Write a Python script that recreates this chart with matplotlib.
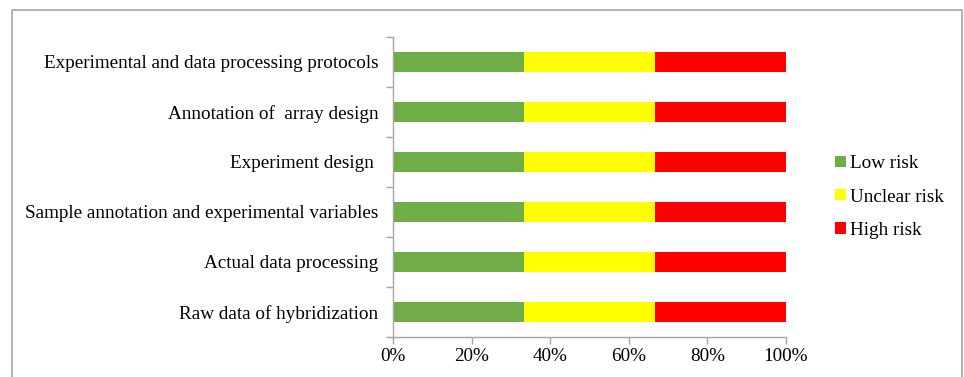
import matplotlib
matplotlib.use("Agg")
import matplotlib.pyplot as plt
from matplotlib.patches import Rectangle
from matplotlib.ticker import FixedLocator, PercentFormatter

plt.rcParams['font.family'] = ['Liberation Serif', 'DejaVu Serif']

categories = [
    "Raw data of hybridization",
    "Actual data processing",
    "Sample annotation and experimental variables",
    "Experiment design ",
    "Annotation of  array design",
    "Experimental and data processing protocols",
]
low_risk = [1/3, 1/3, 1/3, 1/3, 1/3, 1/3]
unclear_risk = [1/3, 1/3, 1/3, 1/3, 1/3, 1/3]
high_risk = [1/3, 1/3, 1/3, 1/3, 1/3, 1/3]
series_names = ["Low risk", "Unclear risk", "High risk"]
series_colors = ["#70AD47", "#FFFF00", "#FF0000"]
x_ticks = [0, 0.2, 0.4, 0.6, 0.8, 1.0]

fig = plt.figure(figsize=(9.64, 3.77), dpi=100)
ax = fig.add_axes([393/964, 1 - 337/377, 393/964, 300/377])

# outer chart frame
fig.patches.append(Rectangle((12/964, -0.05), 950/964, 1 - 10/377 + 0.05,
                             transform=fig.transFigure, fill=False,
                             edgecolor="#A6A6A6", linewidth=1.2, clip_on=False))

ypos = list(range(len(categories)))
left = [0.0] * len(categories)
for vals, name, col in zip([low_risk, unclear_risk, high_risk], series_names, series_colors):
    ax.barh(ypos, vals, left=left, height=0.4, color=col, label=name, linewidth=0)
    left = [a + b for a, b in zip(left, vals)]

ax.set_xlim(0, 1)
ax.set_ylim(-0.5, len(categories) - 0.5)
ax.set_xticks(x_ticks)
ax.xaxis.set_major_formatter(PercentFormatter(1.0, decimals=0))
ax.set_yticks(ypos)
ax.set_yticklabels(categories)
ax.yaxis.set_minor_locator(FixedLocator([i - 0.5 for i in range(len(categories) + 1)]))
ax.tick_params(axis='y', which='major', length=0, pad=10.5, labelsize=13.8)
ax.tick_params(axis='y', which='minor', length=5, color="#A6A6A6", width=1)
ax.tick_params(axis='x', length=5, color="#A6A6A6", width=1, labelsize=13.8, pad=3)

for s in ["top", "right"]:
    ax.spines[s].set_visible(False)
for s in ["left", "bottom"]:
    ax.spines[s].set_color("#A6A6A6")
    ax.spines[s].set_linewidth(1)

leg = ax.legend(loc="center left", bbox_to_anchor=(818/964, 1 - 197/377),
                bbox_transform=fig.transFigure, frameon=False, fontsize=13.8,
                handlelength=0.55, handleheight=0.55, handletextpad=0.2,
                labelspacing=0.85)

fig.savefig("out.png", dpi=100)
